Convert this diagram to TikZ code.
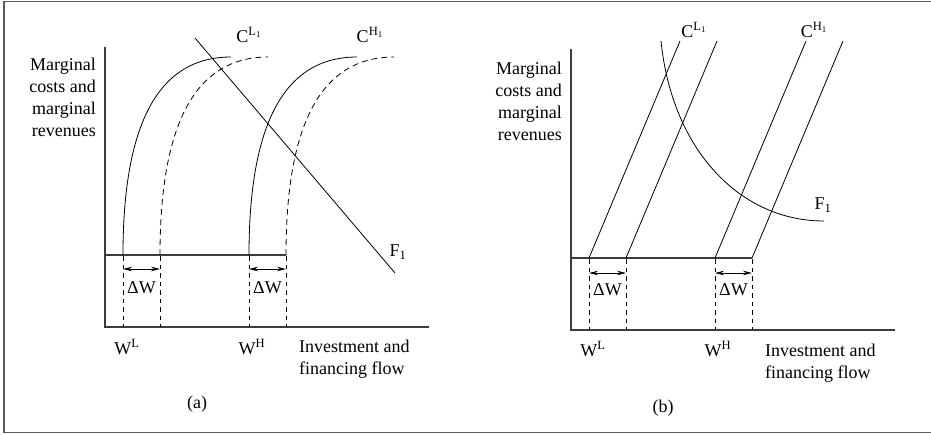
\documentclass[tikz,border=0pt]{standalone}
\usepackage{fontspec}
\setmainfont{Liberation Serif}
\usepackage{tikz}
\usetikzlibrary{arrows.meta}
\definecolor{framegray}{RGB}{90,90,90}
\definecolor{axisgray}{RGB}{60,60,60}

\begin{document}
\begin{tikzpicture}[x=1pt, y=-1pt,
  lbl/.style={inner sep=0pt, font=\fontsize{18}{22}\selectfont},
  axisline/.style={axisgray, line width=1.2pt},
  costline/.style={black, line width=0.8pt},
  shiftline/.style={black, line width=0.8pt, dash pattern=on 6pt off 4pt},
  guide/.style={black, line width=0.7pt, dash pattern=on 4.5pt off 4pt},
  gap/.style={line width=0.8pt, {Stealth[length=9pt,width=4.5pt]}-{Stealth[length=9pt,width=4.5pt]}}]

\useasboundingbox (0,0) rectangle (931,434);
\draw[framegray, line width=1.3pt] (931,1.5) -- (4,1.5) -- (4,432.5) -- (931,432.5);

% Panel (a): concave cost curves
\begin{scope}
  \draw[axisline] (105,47) -- (105,327) -- (429,327);
  \draw[axisline] (105,255) -- (286,255);
  \foreach \s/\sty in {0/costline, 37/shiftline, 126/costline, 163/shiftline}
    \draw[\sty] (123+\s,255) .. controls (123+\s,140) and (150+\s,57) .. (231+\s,57);
  \foreach \s in {123, 160, 249, 286}
    \draw[guide] (\s,256) -- (\s,327);
  \draw[gap] (123,269) -- (160,269);
  \draw[gap] (249,269) -- (286,269);
  \draw[costline] (195,38) -- (395,273);
  \node[lbl] (dwLa) at (141.5,288) {ΔW};
  \node[lbl] (dwHa) at (267.5,288) {ΔW};
  \node[lbl] (cLa) at (249,35) {C\textsuperscript{L\textsubscript{1}}};
  \node[lbl] (cHa) at (370,35) {C\textsuperscript{H\textsubscript{1}}};
  \node[lbl] (fa) at (398,252) {F\textsubscript{1}};
  \node[lbl, anchor=east, align=right] (ya) at (96,97)
    {Marginal\\costs and\\marginal\\revenues};
  \node[lbl] (wLa) at (127,347) {W\textsuperscript{L}};
  \node[lbl] (wHa) at (252,347) {W\textsuperscript{H}};
  \node[lbl, anchor=west, align=left] (xa) at (299,359)
    {Investment and\\financing flow};
  \node[lbl] (capa) at (197,404) {(a)};
\end{scope}

% Panel (b): linear cost lines
\begin{scope}[shift={(466,3)}]
  \draw[axisline] (105,46) -- (105,327) -- (429,327);
  \draw[axisline] (105,255) -- (286,255);
  \foreach \s in {0, 37, 126, 163}
    \draw[costline] (123+\s,255) -- (214+\s,38);
  \foreach \s in {123, 160, 249, 286}
    \draw[guide] (\s,256) -- (\s,327);
  \draw[gap] (123,270) -- (160,270);
  \draw[gap] (249,270) -- (286,270);
  \draw[costline] (195,38) .. controls (206,147) and (274,218) .. (358,218);
  \node[lbl] (dwLb) at (141.5,287) {ΔW};
  \node[lbl] (dwHb) at (267.5,287) {ΔW};
  \node[lbl] (cLb) at (228,27) {C\textsuperscript{L\textsubscript{1}}};
  \node[lbl] (cHb) at (348,27) {C\textsuperscript{H\textsubscript{1}}};
  \node[lbl] (fb) at (357,202) {F\textsubscript{1}};
  \node[lbl, anchor=east, align=right] (yb) at (96,98)
    {Marginal\\costs and\\marginal\\revenues};
  \node[lbl] (wLb) at (127,346) {W\textsuperscript{L}};
  \node[lbl] (wHb) at (252,346) {W\textsuperscript{H}};
  \node[lbl, anchor=west, align=left] (xb) at (299,360)
    {Investment and\\financing flow};
  \node[lbl] (capb) at (197,405) {(b)};
\end{scope}

\end{tikzpicture}
\end{document}
